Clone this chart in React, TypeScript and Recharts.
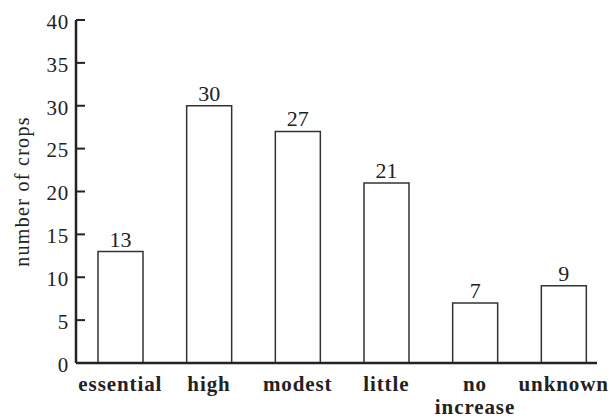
import React from 'react';
import { BarChart, Bar, XAxis, YAxis, LabelList, Label } from 'recharts';

const categories = ['essential', 'high', 'modest', 'little', 'no increase', 'unknown'];
const cropCounts = [13, 30, 27, 21, 7, 9];
const yTicks = [0, 5, 10, 15, 20, 25, 30, 35, 40];

const data = categories.map((category, i) => ({ category, count: cropCounts[i] }));

const FONT = 'Liberation Serif, serif';
const INK = '#222';

const YTick = (props: any) => {
  const { x, y, payload } = props;
  return (
    <g>
      <line x1={x} x2={x + 9} y1={y} y2={y} stroke={INK} strokeWidth={2} />
      <text
        x={x - 7}
        y={y}
        dy="0.42em"
        textAnchor="end"
        fontFamily={FONT}
        fontSize={21}
        letterSpacing={0.8}
        fill={INK}
      >
        {payload.value}
      </text>
    </g>
  );
};

const XTick = (props: any) => {
  const { x, y, payload } = props;
  const words = String(payload.value).split(' ');
  return (
    <text
      x={x}
      y={y + 20}
      textAnchor="middle"
      fontFamily={FONT}
      fontSize={21}
      fontWeight="bold"
      letterSpacing={0.9}
      fill={INK}
    >
      {words.map((w, i) => (
        <tspan key={i} x={x} dy={i === 0 ? 0 : 23}>
          {w}
        </tspan>
      ))}
    </text>
  );
};

export default function App() {
  return (
    <div style={{ position: 'absolute', left: 0, top: 0, background: '#fff' }}>
      <BarChart
        width={614}
        height={420}
        data={data}
        margin={{ top: 20, right: 6, bottom: 7, left: 0 }}
      >
        <XAxis
          dataKey="category"
          height={50}
          tickLine={false}
          tick={<XTick />}
          interval={0}
          axisLine={{ stroke: INK, strokeWidth: 2.5, strokeDasharray: '521 200' }}
        />
        <YAxis
          width={76}
          domain={[0, 40]}
          ticks={yTicks}
          tickSize={0}
          tickMargin={0}
          tickLine={false}
          tick={<YTick />}
          axisLine={{ stroke: INK, strokeWidth: 2.5 }}
        >
          <Label
            value="number of crops"
            angle={-90}
            position="insideLeft"
            offset={22}
            style={{ textAnchor: 'middle', fontFamily: FONT, fontSize: 20, letterSpacing: 1.3, fill: INK }}
          />
        </YAxis>
        <Bar dataKey="count" fill="#fff" stroke="#333" strokeWidth={1.5} barSize={45} isAnimationActive={false}>
          <LabelList dataKey="count" position="top" offset={5} fill={INK} fontFamily={FONT} fontSize={22} />
        </Bar>
      </BarChart>
    </div>
  );
}
